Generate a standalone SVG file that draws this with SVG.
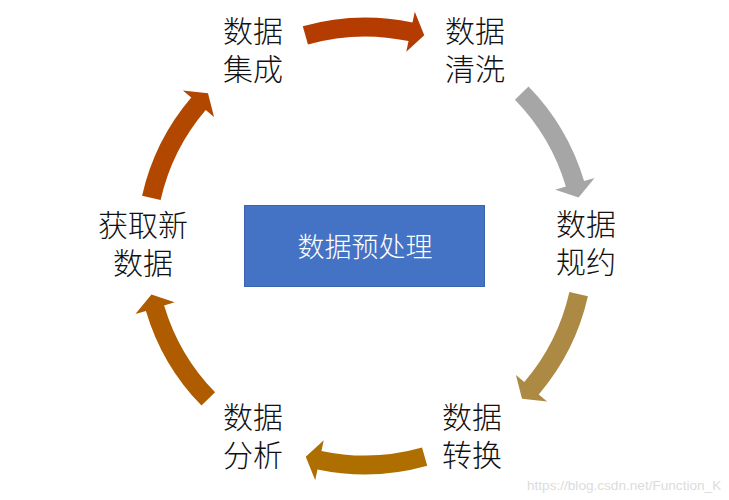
<svg xmlns="http://www.w3.org/2000/svg" xmlns:xlink="http://www.w3.org/1999/xlink" width="729" height="500" viewBox="0 0 729 500">
<style>
.lbl{font-family:"Liberation Sans","Noto Sans CJK SC",sans-serif;font-size:30px;font-weight:300;fill:#111;text-anchor:middle}
.box-t{font-family:"Liberation Sans","Noto Sans CJK SC",sans-serif;font-size:27px;font-weight:300;fill:#fff;text-anchor:middle}
.wm{font-family:"Liberation Sans",Arial,sans-serif;font-size:13.6px;fill:#dcdcdc}
</style>
<defs>
<path id="arr" d="M584.86,183.78 A228.5,228.5 0 0 1 588.50,293.51 L599.25,295.79 L575.83,305.26 L559.15,287.27 L569.91,289.56 A209.5,209.5 0 0 0 566.58,188.95 Z"/>
</defs>
<rect width="729" height="500" fill="#fff"/>
<g id="connectors">
<use xlink:href="#arr" href="#arr" transform="rotate(-90 365 246)" fill="#B43C00"/>
<use xlink:href="#arr" href="#arr" transform="rotate(-28.5 365 246)" fill="#A6A6A6"/>
<use xlink:href="#arr" href="#arr" transform="rotate(28.5 365 246)" fill="#AC8A44"/>
<use xlink:href="#arr" href="#arr" transform="rotate(90 365 246)" fill="#AF6F00"/>
<use xlink:href="#arr" href="#arr" transform="rotate(151.5 365 246)" fill="#AF5C00"/>
<use xlink:href="#arr" href="#arr" transform="rotate(208.5 365 246)" fill="#B24800"/>
</g>
<g id="center">
<rect x="244.5" y="205.5" width="240" height="81" fill="#4472C4" stroke="#3A64AF" stroke-width="1"/>
<text class="box-t" x="365" y="257">数据预处理</text>
</g>
<g id="integration">
<text class="lbl" x="253" y="42">数据<tspan x="253" dy="38">集成</tspan></text>
</g>
<g id="cleaning">
<text class="lbl" x="475" y="42">数据<tspan x="475" dy="38">清洗</tspan></text>
</g>
<g id="reduction">
<text class="lbl" x="586" y="235">数据<tspan x="586" dy="38">规约</tspan></text>
</g>
<g id="transform">
<text class="lbl" x="472" y="428">数据<tspan x="472" dy="38">转换</tspan></text>
</g>
<g id="analysis">
<text class="lbl" x="253" y="428">数据<tspan x="253" dy="38">分析</tspan></text>
</g>
<g id="acquire">
<text class="lbl" x="143" y="236">获取新<tspan x="143" dy="38">数据</tspan></text>
</g>
<text class="wm" x="527" y="490">https://blog.csdn.net/Function_K</text>
</svg>
